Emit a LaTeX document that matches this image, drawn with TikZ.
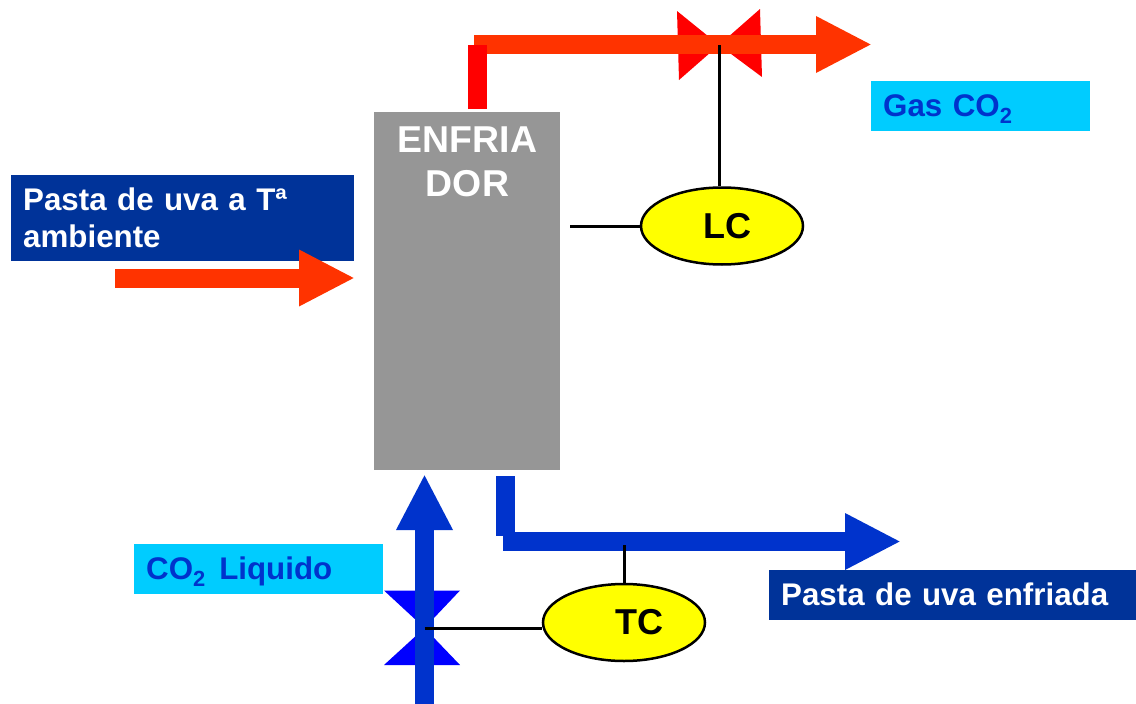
\documentclass[tikz,border=0pt]{standalone}
\usepackage{fontspec}
\setmainfont{Liberation Sans}
\usetikzlibrary{arrows.meta,shapes.geometric}
\definecolor{grayBox}{HTML}{969696}
\definecolor{navyBox}{HTML}{003399}
\definecolor{cyanBox}{HTML}{00CCFF}
\definecolor{blueText}{HTML}{0033CC}
\definecolor{redPipe}{HTML}{FF3300}
\definecolor{redStub}{HTML}{FF0000}
\definecolor{blueValve}{HTML}{0000FF}
\definecolor{ctrlYellow}{HTML}{FFFF00}
\tikzset{
  x=1pt,y=-1pt,
  labelbox/.style={draw=none,inner sep=0pt,anchor=north west,font=\bfseries\fontsize{31.3}{37}\selectfont},
  navybox/.style={labelbox,fill=navyBox,text=white},
  cyanbox/.style={labelbox,fill=cyanBox,text=blueText},
  pipe/.style={line width=19pt,line cap=butt},
  arrowpipe/.style={pipe,-{Triangle[length=56pt,width=52.5pt]}},
  signal/.style={draw=black,line width=3pt},
  ctrl/.style={ellipse,draw=black,line width=2.5pt,fill=ctrlYellow,inner sep=0pt,minimum width=162pt,minimum height=77pt,font=\bfseries\fontsize{36}{36}\selectfont},
}
\begin{document}
\begin{tikzpicture}
\useasboundingbox (0,0) rectangle (1136,704);
% boxes
\node[anchor=north west,fill=grayBox,minimum width=186pt,minimum height=358pt,inner sep=0pt] (cooler) at (374,112) {};
\node[text=white,align=center,font=\bfseries\fontsize{37.4}{44}\selectfont,anchor=north] (coolertext) at (467.5,123.5) {ENFRIA\\DOR};
\node[navybox,minimum width=343pt,minimum height=86pt,text width=331pt,align=left,inner ysep=2pt,inner xsep=6pt] (inlabel) at (11,175) {\hspace*{6pt}Pasta de uva a Tª\\\hspace*{6pt}ambiente};
\node[cyanbox,minimum width=219pt,minimum height=50pt,text width=207pt,align=left,inner xsep=6pt,text depth=4pt] (gaslabel) at (871,81) {\hspace*{6pt}\raisebox{-2.5pt}{Gas CO\textsubscript{2}}};
\node[cyanbox,minimum width=249pt,minimum height=50pt,text width=237pt,align=left,inner xsep=6pt,text depth=4pt] (liqlabel) at (134,544) {\hspace*{6pt}\raisebox{-2pt}{CO\textsubscript{2}\hspace{3pt} Liquido}};
\node[navybox,minimum width=367pt,minimum height=50pt,text width=355pt,align=left,inner xsep=6pt,text depth=4pt] (outlabel) at (769,570) {\hspace*{6pt}\raisebox{-2pt}{Pasta de uva enfriada}};
% named points of the connectors
\coordinate (inS) at (115,278); \coordinate (inE) at (355,278);
\coordinate (gasA) at (477,109); \coordinate (gasB) at (477,45);
\coordinate (gasC) at (474,44.5); \coordinate (gasE) at (872,44.5);
\coordinate (valveG) at (719,45);
\coordinate (levelTap) at (570,226);
\coordinate (liqS) at (424.5,704); \coordinate (liqE) at (424.5,474);
\coordinate (valveL) at (424.5,628);
\coordinate (outA) at (505.5,476); \coordinate (outB) at (505.5,536);
\coordinate (outC) at (503,541.5); \coordinate (outE) at (901,541.5);
\coordinate (tempTap) at (624,545);
% valves
\fill[redStub] (677,11) -- (719,45) -- (679,80) -- cycle;
\fill[redStub] (760,9) -- (719,45) -- (762,77) -- cycle;
\fill[blueValve] (384,590.5) -- (460,590.5) -- (424.5,628) -- cycle;
\fill[blueValve] (384,665) -- (460,665) -- (424.5,628) -- cycle;
% pipes
\draw[arrowpipe,redPipe] (inS) -- (inE);
\draw[arrowpipe,redPipe] (gasC) -- (gasE);
\draw[pipe,redStub] (gasA) -- (gasB);
\draw[arrowpipe,blueText] (liqS) -- (liqE);
\draw[pipe,blueText] (outA) -- (outB);
\draw[arrowpipe,blueText] (outC) -- (outE);
% controllers
\node[ctrl] (LC) at (722,226) {\hspace*{10pt}LC};
\node[ctrl] (TC) at (624,622.5) {\hspace*{30pt}TC};
\draw[signal] (levelTap) -- (LC.west);
\draw[signal] (valveG) -- (valveG |- LC.north);
\draw[signal] (valveL) -- (TC.west |- valveL);
\draw[signal] (tempTap) -- (TC.north);
\end{tikzpicture}
\end{document}
